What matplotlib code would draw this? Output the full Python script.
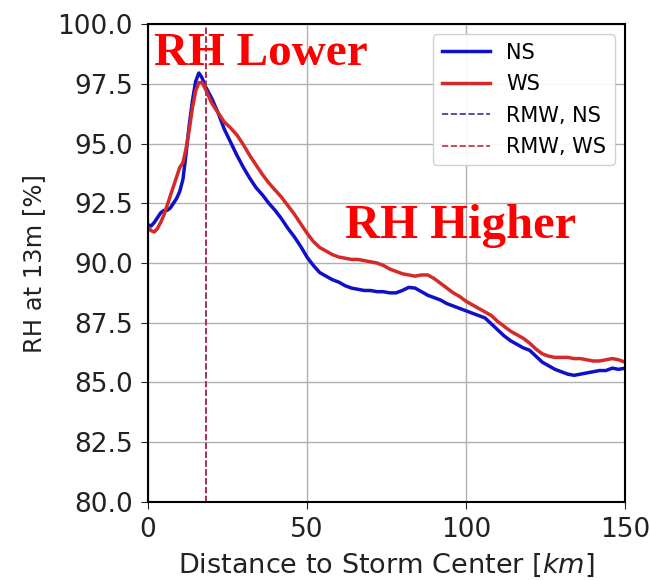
import matplotlib
matplotlib.use('Agg')
import matplotlib.pyplot as plt

# distance to storm center [km]
dist = [0, 1, 2, 3, 4, 5, 6, 7, 8, 9, 10, 11, 12, 13, 14, 15, 16, 17, 18, 19, 20,
        22, 24, 26, 28, 30, 32, 34, 36, 38, 40, 42, 44, 46, 48, 50, 52, 54, 56, 58,
        60, 62, 64, 66, 68, 70, 72, 74, 76, 78, 80, 82, 84, 86, 88, 90, 92, 94, 96,
        98, 100, 102, 104, 106, 108, 110, 112, 114, 116, 118, 120, 122, 124, 126,
        128, 130, 132, 134, 136, 138, 140, 142, 144, 146, 148, 150]

rh_ns = [91.6, 91.55, 91.7, 91.9, 92.1, 92.2, 92.2, 92.3, 92.5, 92.7, 93.0, 93.5,
         94.6, 95.8, 96.8, 97.6, 97.95, 97.75, 97.4, 97.15, 96.9,
         96.3, 95.6, 95.05, 94.5, 94.0, 93.55, 93.15, 92.85, 92.5, 92.2, 91.85,
         91.45, 91.1, 90.7, 90.25, 89.9, 89.6, 89.45, 89.3, 89.2, 89.05, 88.95,
         88.9, 88.85, 88.85, 88.8, 88.8, 88.75, 88.75, 88.85, 88.98, 88.95, 88.8,
         88.65, 88.55, 88.45, 88.3, 88.2, 88.1, 88.0, 87.9, 87.8, 87.7, 87.45,
         87.2, 86.95, 86.75, 86.6, 86.45, 86.35, 86.1, 85.85, 85.7, 85.55, 85.45,
         85.35, 85.3, 85.35, 85.4, 85.45, 85.5, 85.5, 85.6, 85.55, 85.6]

rh_ws = [91.5, 91.35, 91.3, 91.45, 91.7, 92.0, 92.4, 92.8, 93.2, 93.6, 94.0, 94.2,
         94.8, 95.6, 96.5, 97.2, 97.55, 97.55, 97.3, 97.0, 96.7,
         96.3, 95.9, 95.65, 95.35, 94.95, 94.5, 94.1, 93.7, 93.35, 93.05, 92.75,
         92.4, 92.05, 91.65, 91.25, 90.9, 90.65, 90.5, 90.35, 90.25, 90.2, 90.15,
         90.15, 90.1, 90.05, 90.0, 89.9, 89.75, 89.65, 89.55, 89.5, 89.45, 89.5,
         89.5, 89.35, 89.15, 88.95, 88.75, 88.6, 88.4, 88.25, 88.1, 87.95, 87.8,
         87.55, 87.35, 87.15, 87.0, 86.85, 86.65, 86.4, 86.2, 86.1, 86.05, 86.05,
         86.05, 86.0, 86.0, 85.95, 85.9, 85.9, 85.95, 86.0, 85.95, 85.85]

rmw_ns = 18.4
rmw_ws = 18.4

fig = plt.figure(figsize=(6.51, 5.8), dpi=100)
ax = fig.add_axes([0.2273, 0.1345, 0.7327, 0.8241])

ax.plot(dist, rh_ns, color='#1010c8', lw=2.5, label='NS')
ax.plot(dist, rh_ws, color='#d42a2a', lw=2.5, label='WS')
ax.axvline(rmw_ns, color='#3030a0', ls='--', lw=1.2, label='RMW, NS')
ax.axvline(rmw_ws, color='#c03040', ls='--', lw=1.2, label='RMW, WS')

ax.set_xlim(0, 150)
ax.set_ylim(80, 100)
ax.set_xticks([0, 50, 100, 150])
ax.set_yticks([80, 82.5, 85, 87.5, 90, 92.5, 95, 97.5, 100])
ax.set_yticklabels(['%.1f' % v for v in ax.get_yticks()])
ax.tick_params(labelsize=19, colors='#222222', length=5, pad=6)
ax.grid(True, color='#b0b0b0', lw=1.0)
ax.set_xlabel('Distance to Storm Center [$km$]', fontsize=19.5, color='#222222',
              labelpad=6)
ax.set_ylabel('RH at 13m [%]', fontsize=17.5, color='#222222', labelpad=8)
for s in ax.spines.values():
    s.set_linewidth(1.5)

ax.legend(loc='upper right', fontsize=15, handlelength=2.3, framealpha=0.9,
          labelspacing=0.55, borderaxespad=0.5)

ax.text(35.5, 98.3, 'RH Lower', color='red', fontsize=34, fontweight='bold',
        family='Liberation Serif', ha='center', va='baseline')
ax.text(98.4, 91.05, 'RH Higher', color='red', fontsize=35, fontweight='bold',
        family='Liberation Serif', ha='center', va='baseline')

fig.savefig('out.png', dpi=100)
